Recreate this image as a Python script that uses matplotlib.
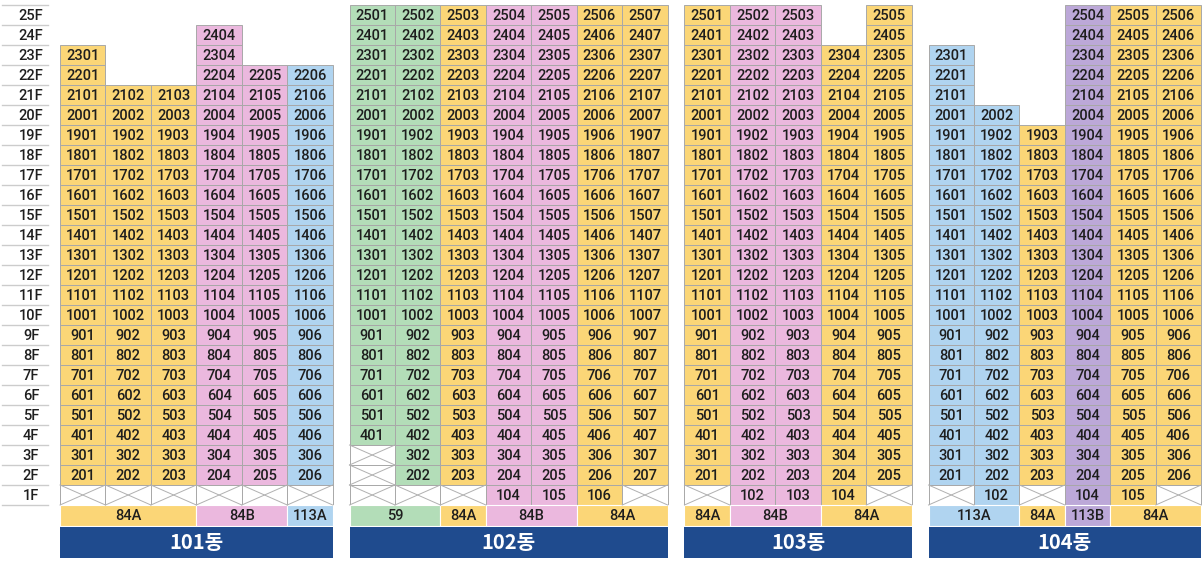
import matplotlib.pyplot as plt
from matplotlib.patches import Rectangle

plt.rcParams['font.family'] = ['Roboto', 'Noto Sans CJK KR', 'DejaVu Sans']

# colours for each unit type
type_colors = {
    '59': '#B3DDB8',
    '84A': '#FBD677',
    '84B': '#EBB8DE',
    '113A': '#B0D4F0',
    '113B': '#BCA8D8',
}

buildings = ['101동', '102동', '103동', '104동']

# per building: unit type of each line (column), lowest and highest floor of real units
line_types = [
    ['84A', '84A', '84A', '84B', '84B', '113A'],
    ['59', '59', '84A', '84B', '84B', '84A', '84A'],
    ['84A', '84B', '84B', '84A', '84A'],
    ['113A', '113A', '84A', '113B', '84A', '84A'],
]
low_floor = [
    [2, 2, 2, 2, 2, 2],
    [4, 2, 2, 1, 1, 1, 2],
    [2, 1, 1, 1, 2],
    [2, 1, 2, 1, 1, 2],
]
top_floor = [
    [23, 21, 21, 24, 22, 22],
    [25, 25, 25, 25, 25, 25, 25],
    [25, 25, 25, 23, 25],
    [23, 20, 19, 25, 25, 25],
]
# type row groups: (label, number of lines)
type_groups = [
    [('84A', 3), ('84B', 2), ('113A', 1)],
    [('59', 2), ('84A', 1), ('84B', 2), ('84A', 2)],
    [('84A', 1), ('84B', 2), ('84A', 2)],
    [('113A', 2), ('84A', 1), ('113B', 1), ('84A', 2)],
]
floors = list(range(25, 0, -1))

# layout (pixels)
W, H = 1204, 563
col_w = 45.45
row_h = 20.0
top = 5.0
first_x = 60.0
gap = 16.8
edge = '#a8a8a8'
navy = '#1F4B8E'
txt = '#1e1e1e'

fig = plt.figure(figsize=(W / 100, H / 100), dpi=100)
ax = fig.add_axes([0, 0, 1, 1])
ax.set_xlim(0, W)
ax.set_ylim(H, 0)
ax.axis('off')


def row_y(floor):
    return top + (25 - floor) * row_h


# floor labels on the left
ax.plot([2, 48], [top, top], color='#cccccc', lw=1)
for f in floors:
    y = row_y(f)
    ax.text(31, y + row_h / 2 + 0.5, f'{f}F', ha='center', va='center', fontsize=10.5,
            color=txt, fontweight='medium')
    ax.plot([2, 48], [y + row_h, y + row_h], color='#cccccc', lw=1)

x0 = first_x
for b, name in enumerate(buildings):
    ncol = len(line_types[b])
    for c in range(ncol):
        x = x0 + c * col_w
        col = line_types[b][c]
        for f in range(1, top_floor[b][c] + 1):
            y = row_y(f)
            if f >= low_floor[b][c]:
                ax.add_patch(Rectangle((x, y), col_w, row_h, facecolor=type_colors[col],
                                       edgecolor=edge, lw=0.7))
                ax.text(x + col_w / 2, y + row_h / 2 + 0.5, f'{f}{c + 1:02d}', ha='center',
                        va='center', fontsize=10.5, color=txt, fontweight='medium')
            else:
                # piloti / empty cell with a cross
                ax.add_patch(Rectangle((x, y), col_w, row_h, facecolor='white',
                                       edgecolor=edge, lw=0.7))
                ax.plot([x, x + col_w], [y, y + row_h], color='#b0b0b0', lw=0.7)
                ax.plot([x, x + col_w], [y + row_h, y], color='#b0b0b0', lw=0.7)
    # unit type row
    ty = row_y(0)
    cx = x0
    for label, n in type_groups[b]:
        ax.add_patch(Rectangle((cx, ty), n * col_w, 21, facecolor=type_colors[label],
                               edgecolor='white', lw=0.8))
        ax.text(cx + n * col_w / 2, ty + 11, label, ha='center', va='center',
                fontsize=10.5, color=txt, fontweight='medium')
        cx += n * col_w
    # building name bar
    by = ty + 21.5
    ax.add_patch(Rectangle((x0, by), ncol * col_w, 31, facecolor=navy, edgecolor='none'))
    ax.text(x0 + ncol * col_w / 2, by + 16, name, ha='center', va='center',
            fontsize=14.5, color='white', fontweight='bold',
            family=['Noto Sans CJK KR', 'DejaVu Sans'])
    x0 += ncol * col_w + gap

fig.savefig('out.png', dpi=100)
